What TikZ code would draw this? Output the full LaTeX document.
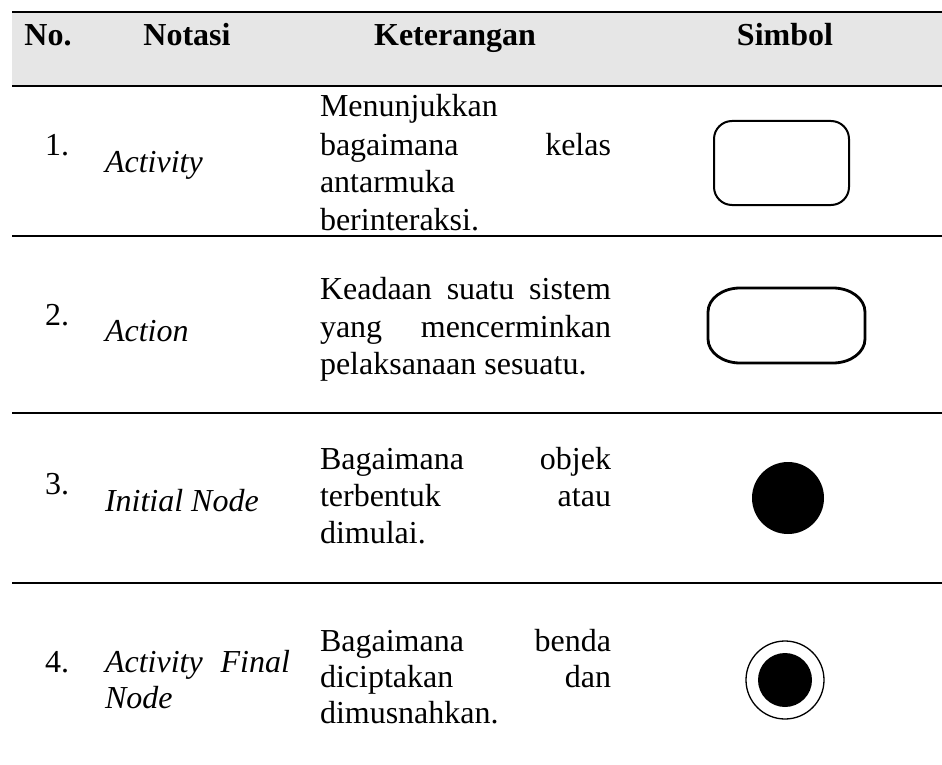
\documentclass[tikz,border=0pt]{standalone}
\usepackage{fontspec}
\setmainfont{Liberation Serif}
\definecolor{hdrgray}{RGB}{230,230,230}
\begin{document}
\begin{tikzpicture}[x=1pt,y=-1pt,
  txt/.style={inner sep=0pt,outer sep=0pt,font=\fontsize{32}{38}\selectfont},
  hdr/.style={inner sep=0pt,outer sep=0pt,font=\fontsize{32}{38}\selectfont\bfseries,anchor=base},
  lt/.style={txt,anchor=base west},
  rt/.style={txt,anchor=base east},
  it/.style={txt,anchor=base west,font=\fontsize{32}{38}\selectfont\itshape},
  rule/.style={line width=2.7pt},
  symline/.style={line width=2pt}]
\useasboundingbox (0,0) rectangle (942,765);
% header background
\fill[hdrgray] (12,12) rectangle (942,86);
% rules
\draw[rule] (12,12) -- (942,12);
\draw[rule] (12,86) -- (942,86);
\draw[rule] (12,236) -- (942,236);
\draw[rule] (12,413) -- (942,413);
\draw[rule] (12,583) -- (942,583);
% header
\node[hdr] (hno) at (48,46) {No.};
\node[hdr] (hnot) at (187,46) {Notasi};
\node[hdr] (hket) at (455,46) {Keterangan};
\node[hdr] (hsim) at (785,46) {Simbol};
% row 1
\node[lt] (n1) at (45,156) {1.};
\node[it] (a1) at (105,172) {Activity};
\node[lt] (k1a) at (320,117) {Menunjukkan};
\node[lt] (k1b) at (320,155) {bagaimana};
\node[rt] (k1c) at (611,155) {kelas};
\node[lt] (k1d) at (320,192) {antarmuka};
\node[lt] (k1e) at (320,230) {berinteraksi.};
\draw[symline,rounded corners=18pt] (714,121) rectangle (849,205);
% row 2
\node[lt] (n2) at (45,325) {2.};
\node[it] (a2) at (105,341) {Action};
\node[lt] (k2a) at (320,299) {\makebox[291pt][s]{Keadaan suatu sistem}};
\node[lt] (k2b) at (320,337) {yang};
\node[rt] (k2c) at (611,337) {mencerminkan};
\node[lt] (k2d) at (320,374) {pelaksanaan sesuatu.};
\draw[line width=2.8pt] (740,288) -- (833,288)
  arc[start angle=90,end angle=0,x radius=32pt,y radius=24pt] -- (865,339)
  arc[start angle=0,end angle=-90,x radius=32pt,y radius=24pt] -- (740,363)
  arc[start angle=-90,end angle=-180,x radius=32pt,y radius=24pt] -- (708,312)
  arc[start angle=180,end angle=90,x radius=32pt,y radius=24pt] -- cycle;
% row 3
\node[lt] (n3) at (45,494) {3.};
\node[it] (a3) at (105,511) {Initial Node};
\node[lt] (k3a) at (320,469) {Bagaimana};
\node[rt] (k3b) at (611,469) {objek};
\node[lt] (k3c) at (320,506) {terbentuk};
\node[rt] (k3d) at (611,506) {atau};
\node[lt] (k3e) at (320,543) {dimulai.};
\fill (788,498) circle (36);
% row 4
\node[lt] (n4) at (45,672) {4.};
\node[it] (a4) at (105,672) {Activity};
\node[txt,anchor=base east,font=\fontsize{32}{38}\selectfont\itshape] (a4b) at (290,672) {Final};
\node[it] (a4c) at (105,708) {Node};
\node[lt] (k4a) at (320,651) {Bagaimana};
\node[rt] (k4b) at (611,651) {benda};
\node[lt] (k4c) at (320,687) {diciptakan};
\node[rt] (k4d) at (611,687) {dan};
\node[lt] (k4e) at (320,723) {dimusnahkan.};
\draw[line width=1.3pt] (785,680) circle (39);
\fill (785,680) circle (27);
\end{tikzpicture}
\end{document}
